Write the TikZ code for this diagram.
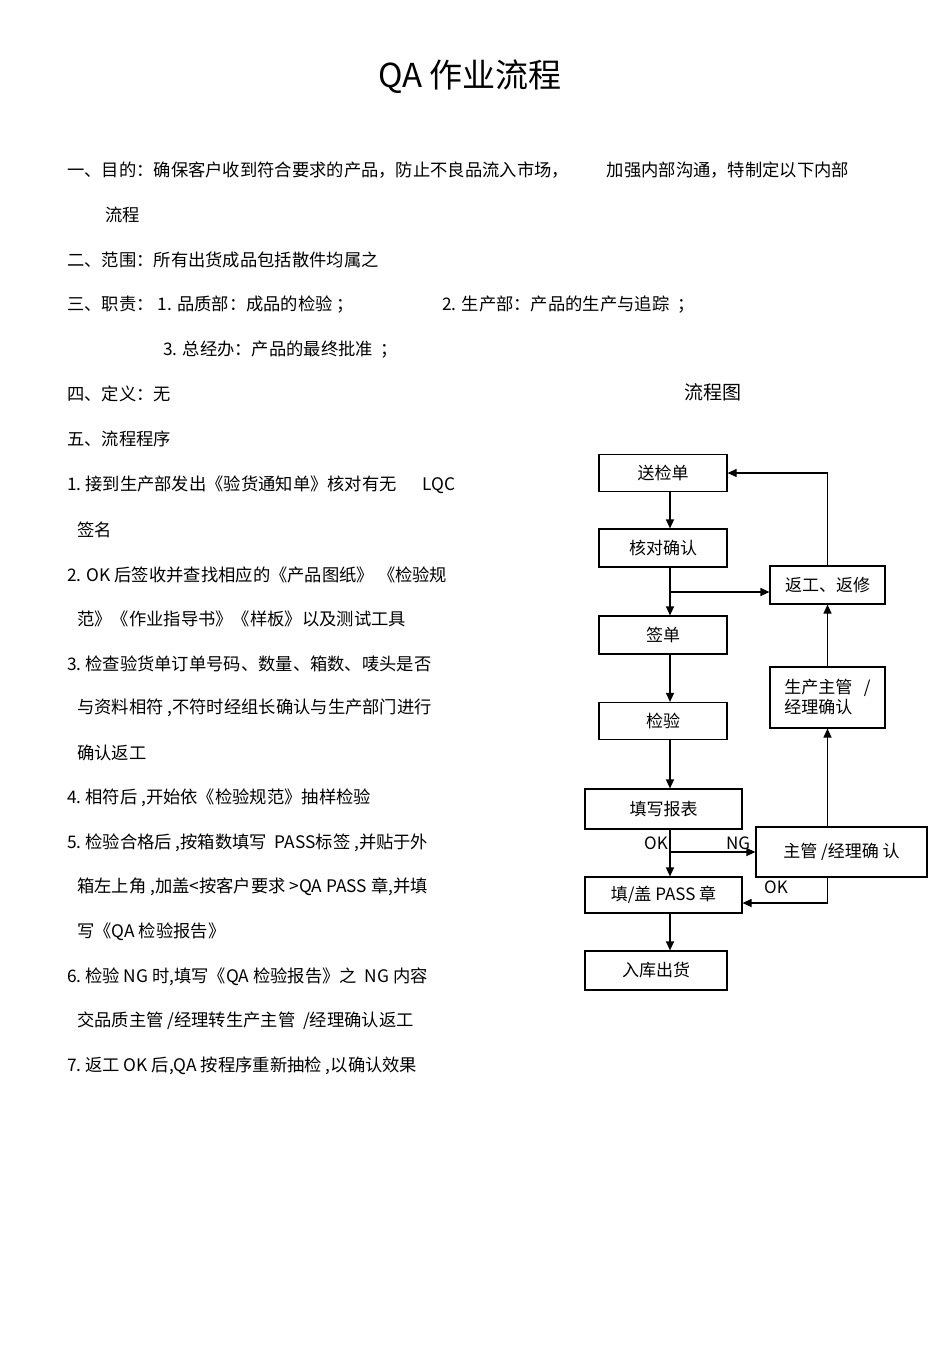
\documentclass[tikz,border=0pt]{standalone}
\usepackage{fontspec}
\setmainfont{Noto Sans CJK SC}
\usetikzlibrary{arrows.meta}
\begin{document}
\begin{tikzpicture}[x=1pt,y=-1pt,
  box/.style={draw,line width=1.2pt,minimum height=0pt,inner sep=0pt,font=\fontsize{17}{20}\selectfont},
  t/.style={anchor=west,inner sep=0pt,font=\fontsize{17.3}{20}\selectfont},
  ar/.style={line width=1.2pt,-{Triangle[length=9pt,width=8pt]}}]
\useasboundingbox (0,0) rectangle (950,1345);
\node[inner sep=0pt,font=\fontsize{33}{36}\selectfont] (title) at (470,77) {QA 作业流程};
\node[t] (l1) at (67,170) {一、目的：确保客户收到符合要求的产品，防止不良品流入市场，\hspace{38pt}加强内部沟通，特制定以下内部};
\node[t] (l1b) at (105,215) {流程};
\node[t] (l2) at (67,260) {二、范围：所有出货成品包括散件均属之};
\node[t] (l3) at (67,305) {三、职责：\ 1. 品质部：成品的检验\ ；};
\node[t] (l3b) at (442,305) {2. 生产部：产品的生产与追踪\ \ ；};
\node[t] (l3c) at (163,350) {3. 总经办：产品的最终批准\ \ ；};
\node[t] (l4) at (67,394) {四、定义：无};
\node[inner sep=0pt,font=\fontsize{19}{21}\selectfont] (fct) at (713,392) {流程图};
\node[t] (l5) at (67,439) {五、流程程序};
\node[t] (p1) at (67,485) {1.\ 接到生产部发出《验货通知单》核对有无\hspace{26pt}LQC};
\node[t] (p1b) at (77,530) {签名};
\node[t] (p2) at (67,575) {2. OK 后签收并查找相应的《产品图纸》\ 《检验规};
\node[t] (p2b) at (77,619) {范》《作业指导书》《样板》以及测试工具};
\node[t] (p3) at (67,664) {3.\ 检查验货单订单号码、数量、箱数、唛头是否};
\node[t] (p3b) at (77,708) {与资料相符 ,不符时经组长确认与生产部门进行};
\node[t] (p3c) at (77,753) {确认返工};
\node[t] (p4) at (67,798) {4.\ 相符后 ,开始依《检验规范》抽样检验};
\node[t] (p5) at (67,843) {5.\ 检验合格后 ,按箱数填写\ \ PASS标签 ,并贴于外};
\node[t] (p5b) at (77,887) {箱左上角 ,加盖<按客户要求 >QA PASS 章,并填};
\node[t] (p5c) at (77,932) {写《QA\ 检验报告》};
\node[t] (p6) at (67,977) {6.\ 检验 NG 时,填写《QA\ 检验报告》之\ \ NG 内容};
\node[t] (p6b) at (77,1021) {交品质主管 /经理转生产主管\ \ /经理确认返工};
\node[t] (p7) at (67,1066) {7.\ 返工 OK 后,QA 按程序重新抽检 ,以确认效果};
% flowchart
\node[box,minimum width=128pt,minimum height=37pt] (a) at (663,473) {送检单};
\node[box,minimum width=128pt,minimum height=38pt] (b) at (663,548) {核对确认};
\node[box,minimum width=115pt,minimum height=38pt] (r) at (827.5,585) {返工、返修};
\node[box,minimum width=128pt,minimum height=38pt] (c) at (663,635) {签单};
\node[box,minimum width=128pt,minimum height=37pt] (d) at (663,721) {检验};
\node[box,minimum width=115pt,minimum height=61pt,align=left] (m) at (827.5,697.5) {生产主管\ \ \ /\\经理确认};
\node[box,minimum width=157pt,minimum height=40pt] (e) at (663.5,809) {填写报表};
\node[box,minimum width=171pt,minimum height=50pt] (s) at (841.5,852) {\raisebox{-8pt}{主管 /经理确 认}};
\node[box,minimum width=157pt,minimum height=36pt] (f) at (663.5,895) {填/盖 PASS 章};
\node[box,minimum width=142pt,minimum height=39pt] (g) at (656,970.5) {入库出货};
\coordinate (j1) at (670,592);
\coordinate (j2) at (670,852);
\draw[ar] (a.south-|j1) -- (b.north-|j1);
\draw[ar] (b.south-|j1) -- (c.north-|j1);
\draw[ar] (j1) -- (r.west|-j1);
\draw[ar] (c.south-|j1) -- (d.north-|j1);
\draw[ar] (d.south-|j1) -- (e.north-|j1);
\draw[ar] (e.south-|j1) -- (f.north-|j1);
\draw[ar] (j2) -- (s.west|-j2);
\draw[ar] (f.south-|j1) -- (g.north-|j1);
\draw[ar] (s.south-|r) |- (f.east|-0,903);
\draw[ar] (s.north-|r) -- (m.south);
\draw[ar] (m.north) -- (r.south);
\draw[ar] (r.north) |- (a.east);
\node[inner sep=0pt,font=\fontsize{17}{20}\selectfont] (ok1) at (656,843) {OK};
\node[inner sep=0pt,font=\fontsize{17}{20}\selectfont] (ng) at (738,843) {NG};
\node[inner sep=0pt,font=\fontsize{17}{20}\selectfont] (ok2) at (776,887) {OK};
\end{tikzpicture}
\end{document}
